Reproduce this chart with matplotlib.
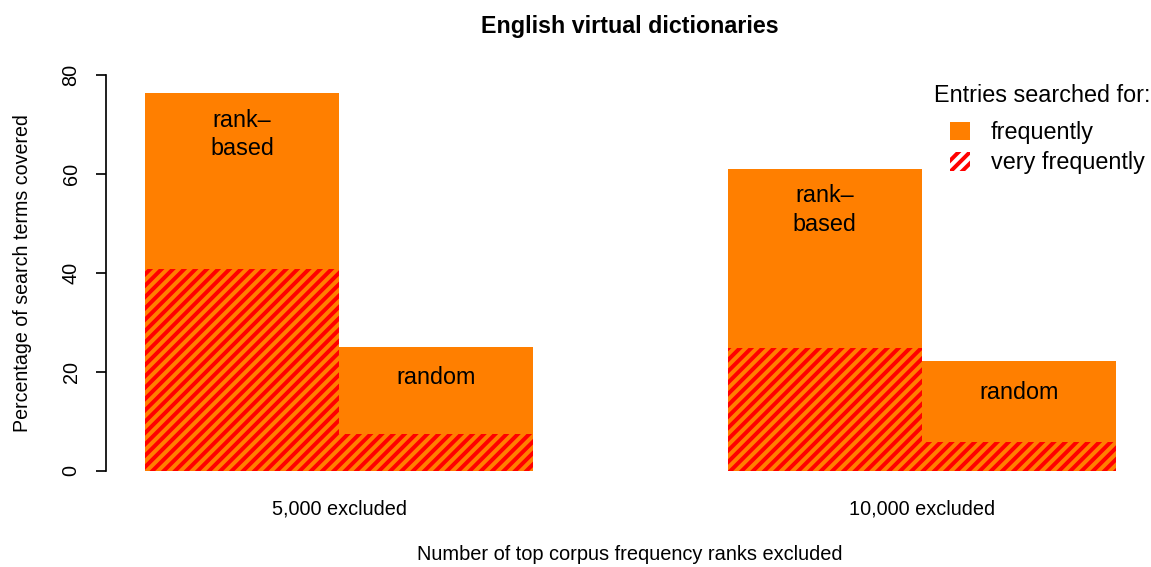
import matplotlib
matplotlib.use("Agg")
import matplotlib.pyplot as plt
from matplotlib.patches import Patch

# ---- data ----
groups = ["5,000 excluded", "10,000 excluded"]
methods = ["rank–\nbased", "random"]
frequently = [[76.3, 25.1], [61.0, 22.2]]        # orange bars
very_frequently = [[40.8, 7.5], [24.8, 5.9]]     # red hatched part
yticks = [0, 20, 40, 60, 80]
legend_title = "Entries searched for:"
legend_labels = ["frequently", "very frequently"]
title = "English virtual dictionaries"
xlabel = "Number of top corpus frequency ranks excluded"
ylabel = "Percentage of search terms covered"

ORANGE = "#FF7F00"
RED = "#FF0000"

DPI = 136
W, H = 1151, 567
plt.rcParams["font.family"] = ["Liberation Sans", "DejaVu Sans"]
plt.rcParams["hatch.linewidth"] = 2.1

fig = plt.figure(figsize=(W / DPI, H / DPI), dpi=DPI)
ax = fig.add_axes([106 / W, (H - 471) / H, 1049 / W, 396 / H])


def px(x, y):
    """figure pixel coords (from top-left) -> figure fraction"""
    return x / W, (H - y) / H


bar_w = 1.0
group_starts = [0.0, 3.0]
centers_group = []
for g, start in enumerate(group_starts):
    for m in range(len(methods)):
        left = start + m * bar_w
        ax.bar(left, frequently[g][m], width=bar_w, align="edge",
               color=ORANGE, linewidth=0)
        ax.bar(left, very_frequently[g][m], width=bar_w, align="edge",
               facecolor="none", edgecolor=RED, hatch="////", linewidth=0)
        off = -41 if "\n" in methods[m] else -31
        ax.annotate(methods[m], xy=(left + bar_w / 2, frequently[g][m]),
                    xytext=(0, off * 72 / DPI), textcoords="offset points",
                    ha="center", va="center", fontsize=12.4,
                    linespacing=1.3, color="black")
    centers_group.append(start + bar_w)

ax.set_xlim(-0.2, 5.2)
ax.set_ylim(0, 80)
for s in ["top", "right", "bottom"]:
    ax.spines[s].set_visible(False)
ax.spines["left"].set_bounds(0, 80)
ax.spines["left"].set_linewidth(0.9)
ax.set_yticks(yticks)
ax.set_yticklabels([str(v) for v in yticks], rotation=90, va="center", fontsize=10.5)
ax.tick_params(axis="y", length=5.5, width=0.9, pad=8)
ax.set_xticks(centers_group)
ax.set_xticklabels(groups, fontsize=10.5)
ax.tick_params(axis="x", length=0, pad=15)

fig.text(*px(630, 555), xlabel, fontsize=10.6, ha="center", va="center")
fig.text(*px(23, 273), ylabel, fontsize=10.4, ha="center", va="center",
         rotation=90)
fig.text(*px(630, 26), title, fontsize=12.3, fontweight="bold",
         ha="center", va="center")

# legend
fig.text(*px(1150, 95), legend_title, fontsize=12.4, ha="right", va="center")
handles = [Patch(facecolor=ORANGE, edgecolor="none"),
           Patch(facecolor="none", edgecolor=RED, hatch="////", linewidth=0)]
leg = fig.legend(handles, legend_labels, frameon=False,
                 loc="upper left", bbox_to_anchor=px(950, 121),
                 fontsize=12.4, handlelength=0.85, handleheight=0.85,
                 handletextpad=0.9, labelspacing=0.32, borderpad=0,
                 borderaxespad=0)

fig.savefig("out.png", dpi=DPI)
